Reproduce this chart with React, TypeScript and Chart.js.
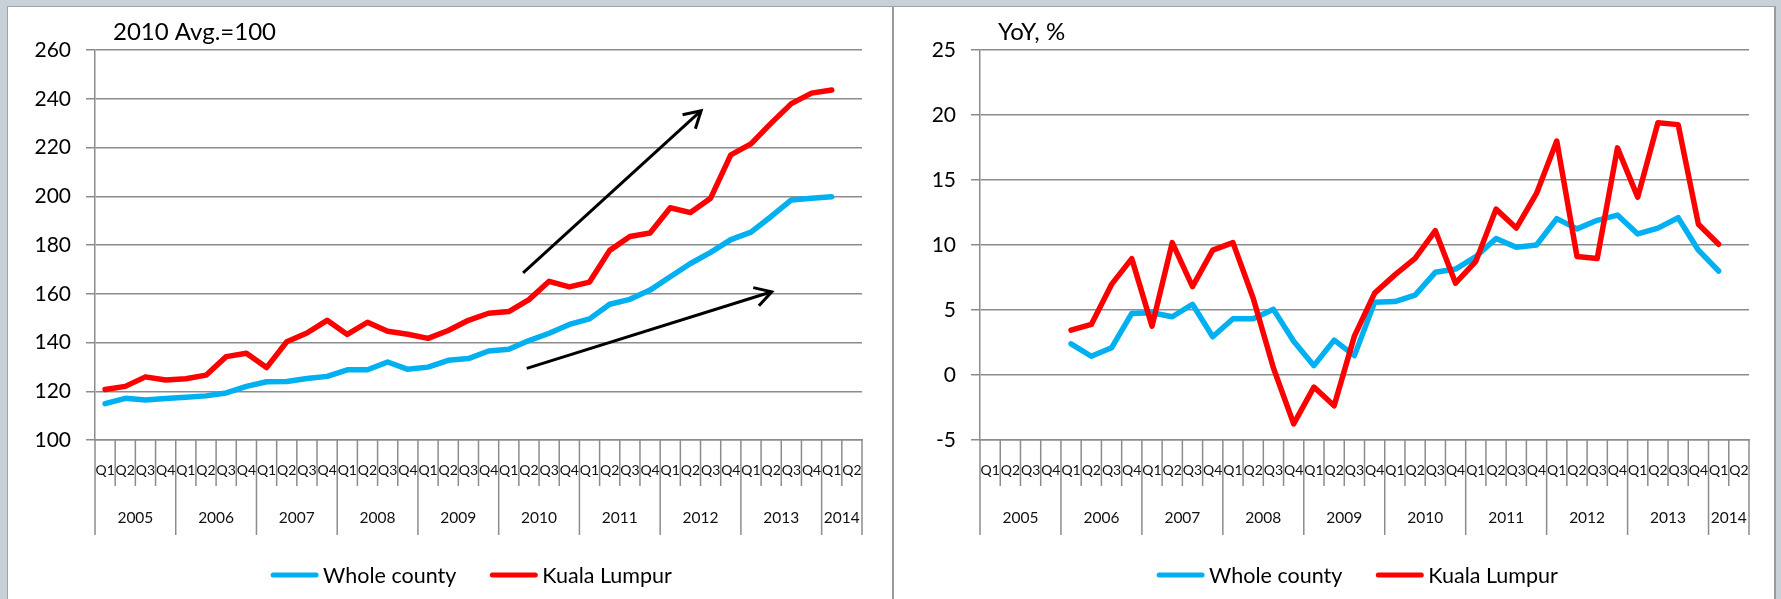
import React, { useEffect, useRef } from "react";
import { Chart, registerables } from "chart.js";

Chart.register(...registerables);

// ---------- data ----------
const YEARS = ["2005", "2006", "2007", "2008", "2009", "2010", "2011", "2012", "2013", "2014"];
const QUARTERS_IN_YEAR = [4, 4, 4, 4, 4, 4, 4, 4, 4, 2];
const QUARTER_NAMES = ["Q1", "Q2", "Q3", "Q4"];

const SERIES_NAMES = ["Whole county", "Kuala Lumpur"];
const SERIES_COLORS = ["#00B0F0", "#FF0000"];

// House price index, 2010 Avg. = 100 (2005 Q1 .. 2014 Q2)
const INDEX_WHOLE = [
  114.9, 117.1, 116.4, 117.0, 117.5, 118.1, 119.3, 122.0, 123.9, 124.0,
  125.2, 126.1, 128.8, 128.8, 132.0, 129.0, 129.9, 132.7, 133.4, 136.5,
  137.2, 140.8, 143.8, 147.4, 149.7, 155.7, 157.7, 161.5, 167.0, 172.4,
  177.0, 182.2, 185.3, 191.7, 198.5, 199.2, 199.8, null,
];
const INDEX_KL = [
  120.7, 122.0, 125.9, 124.6, 125.1, 126.6, 134.2, 135.6, 129.7, 140.3,
  143.9, 149.1, 143.3, 148.3, 144.6, 143.4, 141.7, 144.9, 149.1, 152.0,
  152.7, 157.6, 165.1, 162.8, 164.8, 177.8, 183.5, 184.9, 195.3, 193.3,
  199.2, 217.0, 221.5, 230.0, 238.0, 242.3, 243.6, null,
];

// Year-on-year change, %
const YOY_WHOLE = [
  null, null, null, null, 2.4, 1.44, 2.09, 4.74, 4.79, 4.48,
  5.44, 2.94, 4.33, 4.33, 5.05, 2.6, 0.72, 2.68, 1.49, 5.6,
  5.65, 6.15, 7.9, 8.15, 9.1, 10.5, 9.82, 10.0, 12.03, 11.24,
  11.9, 12.3, 10.85, 11.3, 12.1, 9.6, 8.0, null,
];
const YOY_KL = [
  null, null, null, null, 3.45, 3.89, 6.97, 8.95, 3.76, 10.18,
  6.8, 9.6, 10.18, 5.9, 0.54, -3.76, -0.93, -2.37, 2.99, 6.3,
  7.7, 8.97, 11.1, 7.06, 8.74, 12.76, 11.3, 13.97, 18.0, 9.12,
  8.97, 17.47, 13.68, 19.4, 19.26, 11.6, 10.06, null,
];

const INDEX_AXIS = { min: 100, max: 260, step: 20 };
const YOY_AXIS = { min: -5, max: 25, step: 5 };

const INDEX_TITLE = "2010 Avg.=100";
const YOY_TITLE = "YoY, %";

// trend arrows in data units: [category position, value]
const INDEX_ARROWS = [
  { from: [20.71, 168.6], to: [29.53, 235.1] },
  { from: [20.89, 129.4], to: [33.03, 160.8] },
];

// ---------- styling ----------
const FONT = "Lato, 'Open Sans', sans-serif";
const GRID = "#8c8c8c";
const TEXT = "#111111";

const LABELS: string[] = YEARS.flatMap((_, i) => QUARTER_NAMES.slice(0, QUARTERS_IN_YEAR[i]));

const decorPlugin = {
  id: "decor",
  afterDraw(chart: any, _args: any, opts: any) {
    const { ctx, chartArea } = chart;
    const x = chart.scales.x;
    const y = chart.scales.y;
    const bottom = chartArea.bottom;
    ctx.save();

    // category separators (quarters and years)
    const yearEdges = [0];
    let acc = 0;
    QUARTERS_IN_YEAR.forEach((q) => {
      acc += q;
      yearEdges.push(acc);
    });
    ctx.strokeStyle = GRID;
    ctx.lineWidth = 1.5;
    for (let b = 0; b <= acc; b++) {
      const px = x.getPixelForValue(b - 0.5);
      const len = yearEdges.includes(b) ? opts.yearTickLen : opts.quarterTickLen;
      ctx.beginPath();
      ctx.moveTo(px, bottom);
      ctx.lineTo(px, bottom + len);
      ctx.stroke();
    }

    // year labels
    ctx.fillStyle = TEXT;
    ctx.font = `15.5px ${FONT}`;
    ctx.textAlign = "center";
    ctx.textBaseline = "middle";
    YEARS.forEach((yr, i) => {
      const a = x.getPixelForValue(yearEdges[i] - 0.5);
      const b = x.getPixelForValue(yearEdges[i + 1] - 0.5);
      ctx.fillText(yr, (a + b) / 2, bottom + opts.yearLabelOffset);
    });

    // title
    ctx.fillStyle = "#000";
    ctx.font = `24px ${FONT}`;
    ctx.textAlign = "left";
    ctx.fillText(opts.title, chartArea.left + 18, chartArea.top - 18);

    // arrows
    (opts.arrows || []).forEach((ar: any) => {
      const x1 = x.getPixelForValue(ar.from[0]);
      const y1 = y.getPixelForValue(ar.from[1]);
      const x2 = x.getPixelForValue(ar.to[0]);
      const y2 = y.getPixelForValue(ar.to[1]);
      const ang = Math.atan2(y2 - y1, x2 - x1);
      const head = 19;
      const spread = Math.PI / 6;
      ctx.strokeStyle = "#000";
      ctx.lineWidth = 3;
      ctx.lineCap = "butt";
      ctx.lineJoin = "miter";
      ctx.beginPath();
      ctx.moveTo(x1, y1);
      ctx.lineTo(x2, y2);
      ctx.stroke();
      ctx.beginPath();
      ctx.moveTo(x2 - head * Math.cos(ang - spread), y2 - head * Math.sin(ang - spread));
      ctx.lineTo(x2, y2);
      ctx.lineTo(x2 - head * Math.cos(ang + spread), y2 - head * Math.sin(ang + spread));
      ctx.stroke();
    });

    // legend
    const items = chart.data.datasets.map((ds: any) => ({ text: ds.label, color: ds.borderColor }));
    ctx.font = `${opts.legendFont}px ${FONT}`;
    const widths = items.map((it: any) => opts.legendLine + opts.legendTextGap + ctx.measureText(it.text).width);
    const total = widths.reduce((s: number, w: number) => s + w, 0) + opts.legendGap * (items.length - 1);
    let cx = (chartArea.left + chartArea.right) / 2 + opts.legendShift - total / 2;
    const ly = bottom + opts.legendOffset;
    ctx.textAlign = "left";
    ctx.textBaseline = "middle";
    items.forEach((it: any, i: number) => {
      ctx.strokeStyle = it.color;
      ctx.lineWidth = 5;
      ctx.lineCap = "round";
      ctx.beginPath();
      ctx.moveTo(cx + 2, ly);
      ctx.lineTo(cx + opts.legendLine - 2, ly);
      ctx.stroke();
      ctx.fillStyle = "#000";
      ctx.fillText(it.text, cx + opts.legendLine + opts.legendTextGap, ly + 1);
      cx += widths[i] + opts.legendGap;
    });

    ctx.restore();
  },
};

function makeConfig(p: {
  title: string;
  series: (number | null)[][];
  axis: { min: number; max: number; step: number };
  arrows: any[];
  yWidth: number;
  padRight: number;
}): any {
  return {
    type: "line",
    data: {
      labels: LABELS,
      datasets: SERIES_NAMES.map((name, i) => ({
        label: name,
        data: p.series[i],
        borderColor: SERIES_COLORS[i],
        backgroundColor: SERIES_COLORS[i],
        borderWidth: 5.5,
        pointRadius: 0,
        pointHoverRadius: 0,
        tension: 0,
        fill: false,
        spanGaps: false,
        borderJoinStyle: "round",
        borderCapStyle: "round",
        order: SERIES_NAMES.length - 1 - i,
      })),
    },
    options: {
      responsive: false,
      animation: false,
      devicePixelRatio: 1,
      events: [],
      layout: { padding: { left: 0, right: p.padRight, top: 43, bottom: 0 } },
      plugins: {
        legend: { display: false },
        tooltip: { enabled: false },
        decor: {
          title: p.title,
          arrows: p.arrows,
          quarterTickLen: 46,
          yearTickLen: 95,
          yearLabelOffset: 78,
          legendOffset: 135,
          legendShift: -7,
          legendLine: 47,
          legendTextGap: 5,
          legendGap: 34,
          legendFont: 21.5,
        },
      },
      scales: {
        x: {
          type: "category",
          offset: true,
          grid: { display: false, drawTicks: false },
          border: { display: true, color: GRID, width: 1.5 },
          ticks: {
            autoSkip: false,
            maxRotation: 0,
            minRotation: 0,
            padding: 22,
            color: TEXT,
            font: { family: FONT, size: 14 },
          },
          afterFit: (s: any) => {
            s.height = 159;
          },
        },
        y: {
          min: p.axis.min,
          max: p.axis.max,
          grid: { color: GRID, lineWidth: 1.5, tickLength: 9, drawTicks: true, drawOnChartArea: true },
          border: { display: true, color: GRID, width: 1.5 },
          ticks: {
            stepSize: p.axis.step,
            padding: 15,
            color: "#000",
            font: { family: FONT, size: 21 },
          },
          afterFit: (s: any) => {
            s.width = p.yWidth;
          },
        },
      },
    },
    plugins: [decorPlugin],
  };
}

function ChartCanvas(props: { width: number; height: number; config: any }) {
  const ref = useRef<HTMLCanvasElement | null>(null);
  useEffect(() => {
    if (!ref.current) return;
    const chart = new Chart(ref.current, props.config);
    return () => chart.destroy();
  }, []);
  return (
    <canvas
      ref={ref}
      width={props.width}
      height={props.height}
      style={{ display: "block", width: props.width, height: props.height }}
    />
  );
}

export default function App() {
  const leftConfig = makeConfig({
    title: INDEX_TITLE,
    series: [INDEX_WHOLE, INDEX_KL],
    axis: INDEX_AXIS,
    arrows: INDEX_ARROWS,
    yWidth: 87,
    padRight: 30,
  });
  const rightConfig = makeConfig({
    title: YOY_TITLE,
    series: [YOY_WHOLE, YOY_KL],
    axis: YOY_AXIS,
    arrows: [],
    yWidth: 86,
    padRight: 25,
  });
  return (
    <div
      style={{
        position: "fixed",
        left: 0,
        top: 0,
        width: 1781,
        height: 599,
        background: "#C9D1D8",
        overflow: "hidden",
      }}
    >
      <div
        style={{
          position: "absolute",
          left: 7,
          top: 6,
          width: 887,
          height: 593,
          boxSizing: "border-box",
          background: "#fff",
          borderLeft: "1px solid #a3a3a3",
          borderTop: "1px solid #a3a3a3",
          borderRight: "2px solid #9a9a9a",
        }}
      >
        <ChartCanvas width={884} height={592} config={leftConfig} />
      </div>
      <div
        style={{
          position: "absolute",
          left: 894,
          top: 6,
          width: 882,
          height: 593,
          boxSizing: "border-box",
          background: "#fff",
          borderTop: "1px solid #a3a3a3",
          borderRight: "2px solid #9a9a9a",
        }}
      >
        <ChartCanvas width={880} height={592} config={rightConfig} />
      </div>
    </div>
  );
}
